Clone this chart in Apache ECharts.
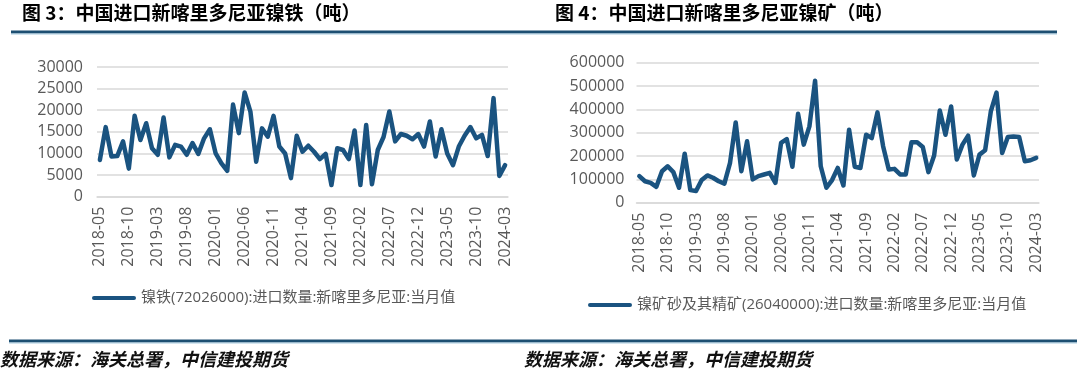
<!DOCTYPE html>
<html><head><meta charset="utf-8">
<script src="https://cdn.jsdelivr.net/npm/echarts@6/dist/echarts.min.js"></script>
<style>html,body{margin:0;padding:0;background:#fff}#c{width:1080px;height:373px}</style>
</head><body><div id="c"></div>
<script>
// categories: monthly 2018-05 .. 2024-03
var months = [];
for (var y = 2018, m = 5; !(y === 2024 && m === 4); ) {
  months.push(y + '-' + (m < 10 ? '0' + m : m));
  m++; if (m > 12) { m = 1; y++; }
}
var titleLeft = '图 3：中国进口新喀里多尼亚镍铁（吨）';
var titleRight = '图 4：中国进口新喀里多尼亚镍矿（吨）';
var nameLeft = '镍铁(72026000):进口数量:新喀里多尼亚:当月值';
var nameRight = '镍矿砂及其精矿(26040000):进口数量:新喀里多尼亚:当月值';
var sourceText = '数据来源：海关总署，中信建投期货';
var nickelIron = [8500,16100,9300,9400,12800,6500,18700,13100,17000,11200,9700,18300,9100,12000,11600,9700,12400,9900,13500,15600,10000,7700,6000,21300,14700,24100,19700,8100,15800,13900,18700,11600,
  10000,4300,14100,10400,11800,10400,8700,9900,2700,11200,10800,8700,15300,2700,16600,2900,10800,13800,19700,12800,14500,14100,13300,14500,11600,17400,9300,15600,10000,7300,11600,14100,16100,13500,14300,9400,22800,4800,7300];
var nickelOre = [114000,92000,85000,68000,135000,156000,131000,64000,210000,54000,50000,97000,117000,107000,92000,82000,171000,344000,135000,263000,100000,114000,121000,128000,85000,256000,273000,154000,381000,249000,327000,523000,
  156000,64000,97000,149000,74000,313000,154000,149000,291000,277000,387000,242000,142000,145000,121000,121000,259000,259000,239000,131000,202000,395000,291000,412000,185000,249000,287000,117000,206000,225000,391000,472000,213000,282000,284000,282000,178000,182000,192000];
var leftTicks = {min: 0, max: 30000, interval: 5000};
var rightTicks = {min: 0, max: 600000, interval: 100000};

var LINE = '#1a5380';
var GRID = '#d9d9d9';
var LBL = '#595959';
var FONT = '"Open Sans","Noto Sans CJK SC",sans-serif';

function xAx(idx) {
  return {
    type: 'category', gridIndex: idx, data: months, boundaryGap: true,
    axisLine: {lineStyle: {color: GRID, width: 1.5}},
    axisTick: {interval: 4, length: 5, lineStyle: {color: GRID, width: 1.5}},
    axisLabel: {interval: 4, rotate: 90, margin: 10, color: LBL, fontSize: 16, fontFamily: FONT}
  };
}
function yAx(idx, t, margin) {
  return {
    type: 'value', gridIndex: idx, min: t.min, max: t.max, interval: t.interval,
    axisLine: {show: false}, axisTick: {show: false},
    splitLine: {lineStyle: {color: GRID, width: 1.5}},
    axisLabel: {margin: margin, color: LBL, fontSize: 16, fontFamily: FONT,
      formatter: function (v) { return String(v); }}
  };
}
var legendIcon = 'path://M2,0 L42,0 A2,2 0 0 1 42,4 L2,4 A2,2 0 0 1 2,0 Z';

var chart = echarts.init(document.getElementById('c'), null, {renderer: 'canvas'});
chart.setOption({
  animation: false,
  grid: [
    {left: 97, right: 572, top: 67, bottom: 176.3},
    {left: 636.5, right: 41, top: 62.7, bottom: 170.3}
  ],
  xAxis: [xAx(0), xAx(1)],
  yAxis: [yAx(0, leftTicks, 14), yAx(1, rightTicks, 12)],
  legend: [
    {left: 92, top: 289, padding: 0, itemWidth: 44, itemHeight: 5, icon: legendIcon, data: [nameLeft],
     textStyle: {color: LBL, fontSize: 15, fontFamily: FONT, lineHeight: 18}},
    {left: 588, top: 296, padding: 0, itemWidth: 44, itemHeight: 5, icon: legendIcon, data: [nameRight],
     textStyle: {color: LBL, fontSize: 15, fontFamily: FONT, lineHeight: 18}}
  ],
  series: [
    {name: nameLeft, type: 'line', xAxisIndex: 0, yAxisIndex: 0, data: nickelIron, symbol: 'none',
     lineStyle: {color: LINE, width: 4.5, join: 'round', cap: 'round'}, itemStyle: {color: LINE}},
    {name: nameRight, type: 'line', xAxisIndex: 1, yAxisIndex: 1, data: nickelOre, symbol: 'none',
     lineStyle: {color: LINE, width: 4.5, join: 'round', cap: 'round'}, itemStyle: {color: LINE}}
  ],
  graphic: [
    {type: 'text', left: 22, top: 3, style: {text: titleLeft, fill: '#000', font: 'bold 19px "Noto Sans CJK SC",sans-serif'}},
    {type: 'text', left: 555, top: 3, style: {text: titleRight, fill: '#000', font: 'bold 19px "Noto Sans CJK SC",sans-serif'}},
    {type: 'rect', shape: {x: 11, y: 30.5, width: 1046, height: 3}, style: {fill: '#1d4f72'}},
    {type: 'rect', shape: {x: 11, y: 33.5, width: 1046, height: 1}, style: {fill: '#a8cbe0'}},
    {type: 'rect', shape: {x: 9, y: 339.5, width: 1068, height: 3}, style: {fill: '#1d4f72'}},
    {type: 'rect', shape: {x: 9, y: 342.5, width: 1068, height: 1}, style: {fill: '#a8cbe0'}},
    {type: 'text', left: 0, top: 350, style: {text: sourceText, fill: '#111', font: 'italic bold 18px "Noto Sans CJK SC",sans-serif'}},
    {type: 'text', left: 524, top: 350, style: {text: sourceText, fill: '#111', font: 'italic bold 18px "Noto Sans CJK SC",sans-serif'}}
  ]
});
</script></body></html>
